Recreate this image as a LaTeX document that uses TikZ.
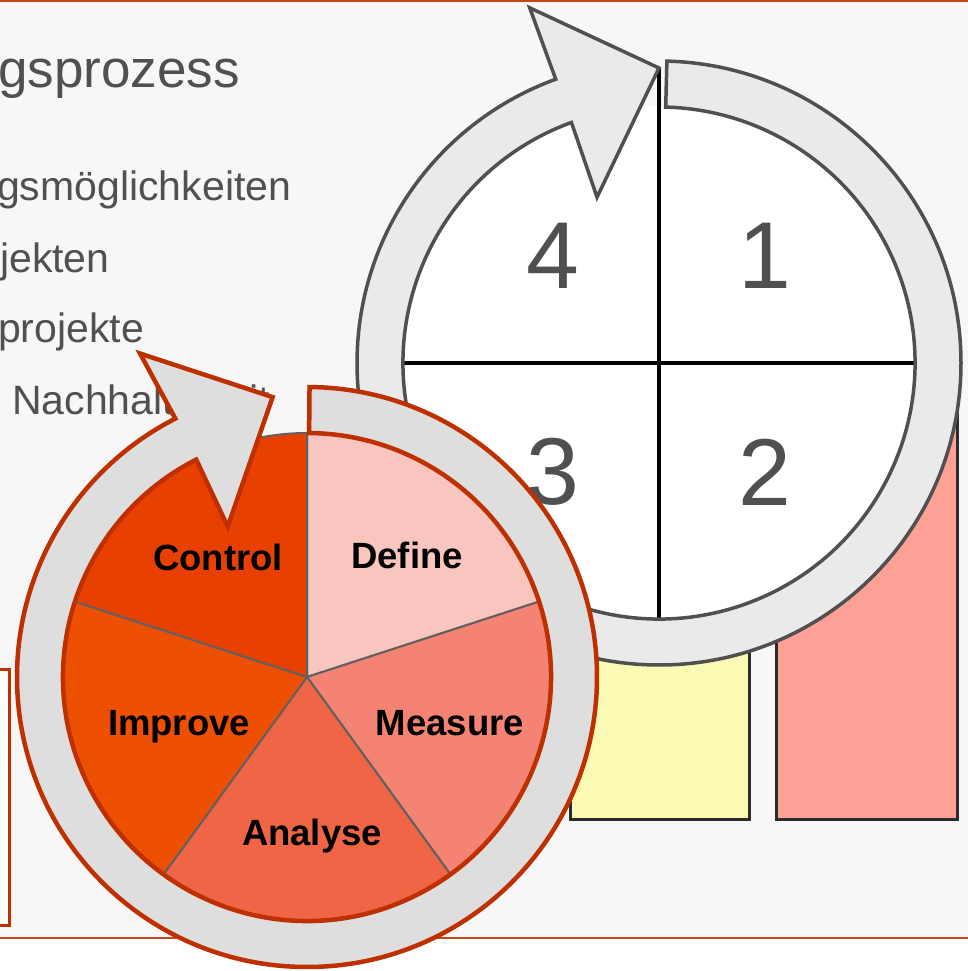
\documentclass[tikz,border=0pt]{standalone}
\usepackage{fontspec}
\setmainfont{Liberation Sans}
\definecolor{frameRed}{HTML}{C8461E}
\definecolor{ringRed}{HTML}{BF3000}
\definecolor{textGray}{HTML}{505050}
\definecolor{panelGray}{HTML}{F7F7F7}
\definecolor{bigRingGray}{HTML}{EAEAEA}
\definecolor{smallRingGray}{HTML}{DEDEDE}
\definecolor{barYellow}{HTML}{FAFAB4}
\definecolor{barPink}{HTML}{FFA096}
\definecolor{defineCol}{HTML}{F9C5BF}
\definecolor{measureCol}{HTML}{F48373}
\definecolor{analyseCol}{HTML}{F06545}
\definecolor{improveCol}{HTML}{EC5000}
\definecolor{controlCol}{HTML}{E84000}
\begin{document}
\begin{tikzpicture}[x=1pt, y=1pt,
  lineStyle/.style={text=textGray, anchor=base west, inner sep=0, font=\fontsize{41}{41}\selectfont},
  numStyle/.style={text=textGray, inner sep=0, font=\fontsize{95}{95}\selectfont},
  phaseStyle/.style={anchor=base, inner sep=0, font=\fontsize{36.5}{36.5}\selectfont\bfseries},
  barStyle/.style={draw=black!83, line width=3pt},
  sliceStyle/.style={draw=black!62, line width=2pt}]
\useasboundingbox (0,0) rectangle (968,-971);
% panel
\fill[panelGray] (0,-2) rectangle (968,-938);
\draw[frameRed, line width=2.5pt] (0,-1) -- (968,-1);
\draw[frameRed, line width=2pt] (0,-938) -- (968,-938);
\draw[ringRed, line width=3pt, fill=white] (-10,-669) rectangle (9,-925);
% bars
\draw[barStyle, fill=barYellow] (570,-640) rectangle (749,-819);
\draw[barStyle, fill=barPink] (776,-380) rectangle (957,-819);
% text lines
\node[lineStyle, font=\fontsize{53}{53}\selectfont] (title) at (-2,-88) {gsprozess};
\node[lineStyle] (item1) at (-3,-200) {gsmöglichkeiten};
\node[lineStyle] (item2) at (0,-272) {jekten};
\node[lineStyle] (item3) at (-2,-342) {projekte};
\node[lineStyle] (item4) at (12,-414) {Nachhaltigkeit};
% big cycle
\coordinate (bigC) at (659,-363);
\begin{scope}[shift={(bigC)}]
  \fill[white] (0,0) circle (257);
  \draw[line width=3.5pt] (90:295) -- (270:258);
  \draw[line width=3.5pt] (180:258) -- (0:258);
  \draw[draw=textGray, fill=bigRingGray, line width=3.5pt]
    (88.5:302) arc[start angle=88.5, end angle=-250, radius=302]
    -- (110:378) -- (90:295) -- (110.5:177) -- (110:256)
    arc[start angle=-250, end angle=88.5, radius=256] -- cycle;
  \node[numStyle] (q1) at (106,107) {1};
  \node[numStyle] (q2) at (106,-109) {2};
  \node[numStyle] (q3) at (-106,-109) {3};
  \node[numStyle] (q4) at (-106,107) {4};
\end{scope}
% DMAIC cycle
\coordinate (pieC) at (307,-677);
\begin{scope}[shift={(pieC)}]
  \foreach \a/\b/\c in {18/90/defineCol, -54/18/measureCol, -126/-54/analyseCol, 162/234/improveCol, 90/162/controlCol}
    \filldraw[sliceStyle, fill=\c] (0,0) -- (\a:244) arc[start angle=\a, end angle=\b, radius=244] -- cycle;
  \draw[draw=ringRed, fill=smallRingGray, line width=4.5pt]
    (89.5:290) arc[start angle=89.5, end angle=-243, radius=290]
    -- (117.3:364) -- (97:282) -- (117.8:170) -- (117:244)
    arc[start angle=-243, end angle=89.5, radius=244] -- cycle;
  \node[phaseStyle] (define) at (100,109) {Define};
  \node[phaseStyle] (measure) at (143,-58) {Measure};
  \node[phaseStyle] (analyse) at (5,-168) {Analyse};
  \node[phaseStyle] (improve) at (-128,-58) {Improve};
  \node[phaseStyle] (control) at (-89,107) {Control};
\end{scope}
\end{tikzpicture}
\end{document}
